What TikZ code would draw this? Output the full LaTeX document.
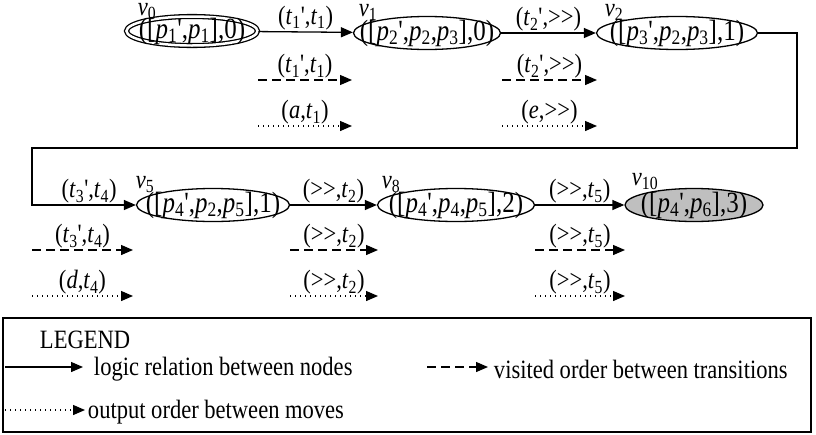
\documentclass[tikz,border=0pt]{standalone}
\usepackage{graphicx}
\usepackage{fontspec}
\setmainfont{Liberation Serif}[Ligatures=TeXOff]
\usetikzlibrary{automata, shapes.geometric, arrows.meta}
\newcommand{\vr}[2]{\textit{#1}\textsubscript{#2}}
\newsavebox{\tallbox}

\begin{document}
\begin{tikzpicture}[->, >={Triangle[length=12pt, width=10pt]}, x=1pt, y=-1pt, line width=1.3pt,
    font=\fontsize{23}{27}\selectfont,
    every node/.append style={execute at begin node={\begin{lrbox}{\tallbox}},
        execute at end node={\end{lrbox}\scalebox{0.98}[1.15]{\usebox{\tallbox}}}},
    every state/.style={ellipse, draw, inner xsep=-40pt, inner ysep=-10pt, minimum height=33pt,
        text height=20pt, text depth=6pt, font=\fontsize{25.5}{29}\selectfont},
    lbl/.style={above, inner sep=1pt},
    vlab/.style={anchor=base, inner sep=0pt},
    visit/.style={dash pattern=on 9pt off 5pt},
    output/.style={dash pattern=on 1.3pt off 3.7pt}]
    \useasboundingbox (0,0) rectangle (816,434);

    % the graph
    \node[state, accepting, double distance=2.5pt, minimum width=131pt, minimum height=29pt] (v0) at (192,31) {([\vr{p}{1}',\vr{p}{1}],0)};
    \node[state, minimum width=147pt] (v1) at (427,33) {([\vr{p}{2}',\vr{p}{2},\vr{p}{3}],0)};
    \node[state, minimum width=161pt] (v2) at (677,33) {([\vr{p}{3}',\vr{p}{2},\vr{p}{3}],1)};
    \node[state, minimum width=153pt] (v5) at (213,205) {([\vr{p}{4}',\vr{p}{2},\vr{p}{5}],1)};
    \node[state, minimum width=157pt] (v8) at (456,205) {([\vr{p}{4}',\vr{p}{4},\vr{p}{5}],2)};
    \node[state, minimum width=138pt, fill=black!25] (v10) at (694,205) {([\vr{p}{4}',\vr{p}{6}],3)};

    \node[vlab] (n0) at (147,15) {\vr{v}{0}};
    \node[vlab] (n1) at (368,16) {\vr{v}{1}};
    \node[vlab] (n2) at (614,16) {\vr{v}{2}};
    \node[vlab] (n5) at (145,188) {\vr{v}{5}};
    \node[vlab] (n8) at (391,188) {\vr{v}{8}};
    \node[vlab] (n10) at (645,185) {\vr{v}{10}};

    \coordinate (ne) at (797,148);
    \coordinate (sw) at (32,148);
    \coordinate (ws) at (32,205);

    \draw (v0) -- node[lbl]{(\vr{t}{1}',\vr{t}{1})} (v1);
    \draw (v1) -- node[lbl]{(\vr{t}{2}',>>)} (v2);
    \draw (v2) -| (ne) -- (sw) -- (ws) -- node[lbl, pos=0.55]{(\vr{t}{3}',\vr{t}{4})} (v5);
    \draw (v5) -- node[lbl]{(>>,\vr{t}{2})} (v8);
    \draw (v8) -- node[lbl]{(>>,\vr{t}{5})} (v10);

    % visited order and output order under each step
    \foreach \n/\xa/\xb/\y/\lv/\lo in {
        1/258/352/80/{(\vr{t}{1}',\vr{t}{1})}/{(\textit{a},\vr{t}{1})},
        2/502/597/80/{(\vr{t}{2}',>>)}/{(\textit{e},>>)},
        3/32/133/250/{(\vr{t}{3}',\vr{t}{4})}/{(\textit{d},\vr{t}{4})},
        4/290/378/250/{(>>,\vr{t}{2})}/{(>>,\vr{t}{2})},
        5/535/625/250/{(>>,\vr{t}{5})}/{(>>,\vr{t}{5})}}
    {
        \coordinate (vs\n) at (\xa,\y);
        \coordinate (ve\n) at (\xb,\y);
        \coordinate (os\n) at (\xa,\y+46);
        \coordinate (oe\n) at (\xb,\y+46);
        \draw[visit] (vs\n) -- node[lbl]{\lv} (ve\n);
        \draw[output] (os\n) -- node[lbl]{\lo} (oe\n);
    }

    % legend
    \draw[-, line width=1.2pt] (3,318) rectangle (811,432);
    \node[anchor=west] (lg) at (36,340) {LEGEND};
    \coordinate (k1a) at (5,367);
    \coordinate (k1b) at (83,367);
    \coordinate (k2a) at (427,367);
    \coordinate (k2b) at (488,367);
    \coordinate (k3a) at (5,410);
    \coordinate (k3b) at (85,410);
    \draw (k1a) -- (k1b);
    \draw[visit] (k2a) -- (k2b);
    \draw[output] (k3a) -- (k3b);
    \node[anchor=west] (k1) at (90,369) {logic relation between nodes};
    \node[anchor=west] (k2) at (490,369) {visited order between transitions};
    \node[anchor=west] (k3) at (84,412) {output order between moves};
\end{tikzpicture}
\end{document}
